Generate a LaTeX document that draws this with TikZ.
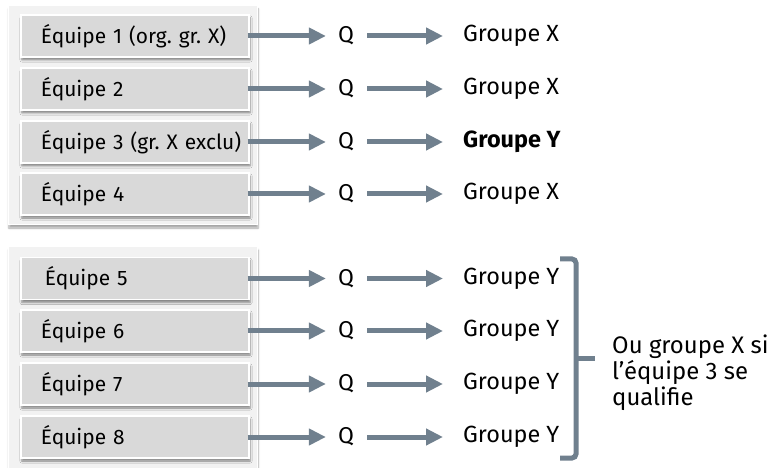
\documentclass[tikz,border=0pt]{standalone}
\usepackage{fontspec}
\setmainfont{Fira Sans}
\usetikzlibrary{arrows.meta,shadows.blur}

\definecolor{panelgray}{RGB}{242,242,242}
\definecolor{boxgray}{RGB}{217,217,217}
\definecolor{arrowgray}{RGB}{112,128,142}

\frenchspacing
\begin{document}
\begin{tikzpicture}[x=1bp,y=-1bp]
\tikzstyle{every node}+=[inner sep=0pt]
\tikzstyle{panel}=[fill=panelgray,draw=white,line width=1bp,blur shadow={shadow xshift=1bp,shadow yshift=-3bp,shadow blur steps=6,shadow opacity=35}]
\tikzstyle{team}=[fill=boxgray,draw=white,line width=1.2bp,minimum height=42bp,text width=188bp,inner xsep=20bp,align=left,font=\fontsize{21}{24}\selectfont,blur shadow={shadow xshift=1bp,shadow yshift=-3bp,shadow blur steps=5,shadow opacity=45}]
\tikzstyle{qual}=[font=\fontsize{23}{26}\selectfont]
\tikzstyle{grp}=[anchor=west,font=\fontsize{23.5}{26}\selectfont]
\tikzstyle{link}=[arrowgray,line width=5bp,-{Triangle[length=17bp,width=16bp]}]
\useasboundingbox (0,0) rectangle (772,468);
% panels
\draw [panel] (8,6) rectangle (257,225);
\draw [panel] (8,247) rectangle (257,480);
% teams
\node [team] (e1) at (135,36) {Équipe 1 (org. gr. X)};
\node [team] (e2) at (135,89) {Équipe 2};
\node [team] (e3) at (135,142) {\mbox{Équipe 3 (gr. X exclu)}};
\node [team] (e4) at (135,194) {Équipe 4};
\node [team] (e5) at (135,278.5) {\hspace{4bp}Équipe 5};
\node [team] (e6) at (135,331) {Équipe 6};
\node [team] (e7) at (135,384) {Équipe 7};
\node [team] (e8) at (135,437) {Équipe 8};
% qualification
\node [qual] (q1) at (346,36) {Q};
\node [qual] (q2) at (346,89) {Q};
\node [qual] (q3) at (346,142) {Q};
\node [qual] (q4) at (346,194) {Q};
\node [qual] (q5) at (346,278.5) {Q};
\node [qual] (q6) at (346,331) {Q};
\node [qual] (q7) at (346,384) {Q};
\node [qual] (q8) at (346,437) {Q};
% groups
\node [grp] (g1) at (463,36) {Groupe X};
\node [grp] (g2) at (463,89) {Groupe X};
\node [grp] (g3) at (463,142) {\bfseries Groupe Y};
\node [grp] (g4) at (463,194) {Groupe X};
\node [grp] (g5) at (463,278.5) {Groupe Y};
\node [grp] (g6) at (463,331) {Groupe Y};
\node [grp] (g7) at (463,384) {Groupe Y};
\node [grp] (g8) at (463,437) {Groupe Y};
% arrows
\draw [link,shorten <=-2bp,shorten >=12bp] (e1.east) -- (q1.west);
\draw [link,shorten <=-2bp,shorten >=12bp] (e2.east) -- (q2.west);
\draw [link,shorten <=-2bp,shorten >=12bp] (e3.east) -- (q3.west);
\draw [link,shorten <=-2bp,shorten >=12bp] (e4.east) -- (q4.west);
\draw [link,shorten <=-2bp,shorten >=12bp] (e5.east) -- (q5.west);
\draw [link,shorten <=-2bp,shorten >=12bp] (e6.east) -- (q6.west);
\draw [link,shorten <=-2bp,shorten >=12bp] (e7.east) -- (q7.west);
\draw [link,shorten <=-2bp,shorten >=12bp] (e8.east) -- (q8.west);
\draw [link,shorten <=13bp,shorten >=20bp] (q1.east) -- (g1.west);
\draw [link,shorten <=13bp,shorten >=20bp] (q2.east) -- (g2.west);
\draw [link,shorten <=13bp,shorten >=20bp] (q3.east) -- (g3.west);
\draw [link,shorten <=13bp,shorten >=20bp] (q4.east) -- (g4.west);
\draw [link,shorten <=13bp,shorten >=20bp] (q5.east) -- (g5.west);
\draw [link,shorten <=13bp,shorten >=20bp] (q6.east) -- (g6.west);
\draw [link,shorten <=13bp,shorten >=20bp] (q7.east) -- (g7.west);
\draw [link,shorten <=13bp,shorten >=20bp] (q8.east) -- (g8.west);
% bracket
\coordinate (btop) at (560,259);
\coordinate (bbot) at (560,458);
\coordinate (bmid) at (595,358);
\draw [arrowgray,line width=5bp,rounded corners=4bp] (btop) -- (576,259) -- (576,458) -- (bbot);
\draw [arrowgray,line width=5bp] (576,358) -- (bmid);
\node [anchor=west,align=left,font=\fontsize{24}{26}\selectfont] (note) at (612,373) {Ou groupe X si\\l’équipe 3 se\\qualifie};
\end{tikzpicture}
\end{document}
